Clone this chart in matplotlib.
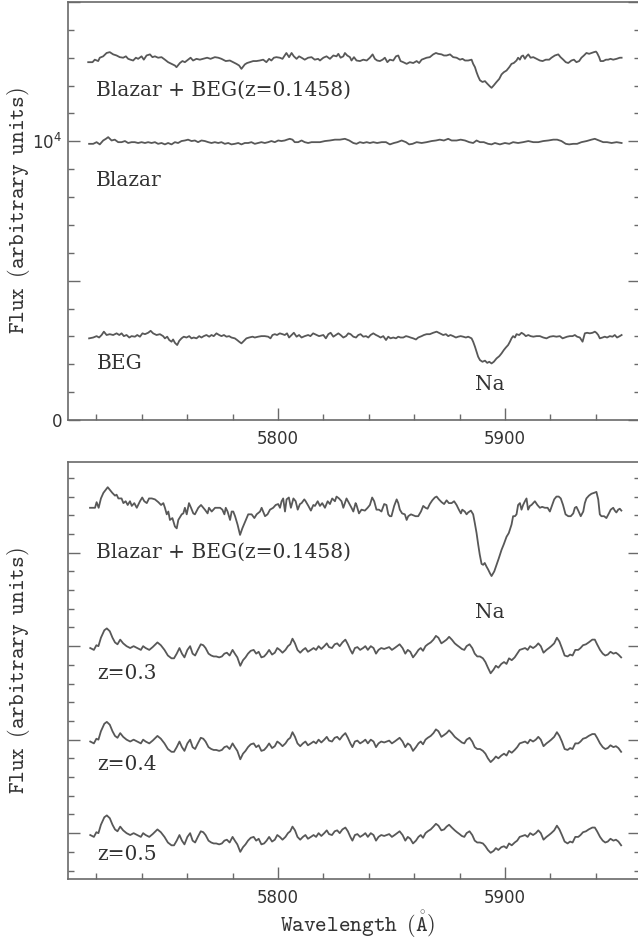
import numpy as np
import matplotlib
matplotlib.use("Agg")
import matplotlib.pyplot as plt
from matplotlib.ticker import MultipleLocator, FixedLocator

# ---- top panel spectra (flux in counts) ----
top_bb_wave = [
    5716.4, 5718.3, 5719.3, 5720.8, 5721.5, 5723.0, 5724.5, 5725.9, 5727.4, 5728.9,
    5730.3, 5731.8, 5733.0, 5734.0, 5735.0, 5736.2, 5737.4, 5738.4, 5739.9, 5740.9,
    5742.1, 5743.6, 5744.7, 5745.8, 5747.2, 5748.7, 5750.2, 5751.6, 5753.1, 5754.6,
    5755.3, 5756.8, 5757.9, 5759.0, 5760.4, 5761.5, 5762.6, 5764.1, 5765.6, 5767.0,
    5768.8, 5770.3, 5772.2, 5773.7, 5775.1, 5777.0, 5778.8, 5780.3, 5781.7, 5782.9,
    5783.9, 5785.4, 5786.4, 5787.6, 5789.1, 5790.5, 5792.0, 5793.5, 5794.9, 5796.1,
    5797.1, 5798.2, 5799.3, 5800.8, 5802.0, 5803.0, 5803.7, 5804.9, 5806.0, 5807.0,
    5808.2, 5809.3, 5810.4, 5811.8, 5813.3, 5814.8, 5816.2, 5817.7,
    5818.5, 5820.0, 5821.4, 5822.9, 5824.4, 5825.8, 5826.6, 5827.6, 5828.8, 5829.5,
    5830.5, 5831.7, 5832.4, 5833.5, 5834.6, 5836.1, 5837.6, 5839.1, 5840.5, 5841.7,
    5842.7, 5843.7, 5844.9, 5846.1, 5847.1, 5848.2, 5849.3, 5850.8, 5852.0, 5853.0,
    5854.0, 5855.2, 5856.7, 5858.1, 5859.6, 5861.1, 5862.2, 5863.3, 5864.3, 5865.5,
    5866.9, 5868.4, 5869.6, 5870.6, 5872.1, 5873.1, 5874.3, 5875.8, 5877.2, 5878.7,
    5880.2, 5881.3, 5882.4, 5883.8, 5885.3, 5886.0, 5886.8, 5887.5, 5888.2, 5889.0,
    5890.1, 5891.2, 5892.2, 5893.4, 5894.1, 5895.1, 5896.3, 5897.5, 5898.5, 5899.5,
    5900.7, 5901.9, 5902.9, 5903.9, 5905.1, 5905.8, 5906.6, 5907.3, 5908.0, 5908.8,
    5909.5, 5910.3, 5911.3, 5912.5, 5913.9, 5915.4, 5916.6, 5918.0, 5919.5, 5920.5,
    5922.0, 5923.5, 5924.5, 5925.7, 5926.8, 5927.9, 5929.3, 5930.4, 5931.5, 5932.7,
    5933.7, 5934.8, 5935.9, 5937.1, 5938.1, 5939.2, 5940.1, 5940.6, 5941.5, 5942.1,
    5943.3, 5944.5, 5945.5, 5946.5, 5947.7, 5949.2, 5950.6, 5951.4]
top_bb_flux = [
    12840, 12840, 12930, 12880, 13000, 13050, 13170, 13200, 13120, 13080,
    13020, 13000, 13050, 12960, 12930, 12900, 13000, 12960, 13050, 12930,
    13080, 13120, 13020, 13050, 13000, 13020, 12930, 12840, 12780, 12720,
    12660, 12810, 12880, 12840, 12930, 13000, 12900, 12960, 12930, 12960,
    13000, 12960, 13020, 13000, 12960, 12880, 12900, 12840, 12780, 12720,
    12600, 12760, 12810, 12840, 12880, 12880, 12900, 12930, 12840, 12960,
    12900, 13000, 13020, 13000, 12960, 13080, 13170, 13020, 13170, 13050,
    12960, 13050, 13000, 12930, 13000, 13020, 12930, 12960,
    12900, 13000, 13050, 12960, 13080, 13050, 13140, 13000, 13050, 13170,
    13080, 13020, 12900, 13020, 12900, 12880, 12930, 12900, 13000, 13120,
    12960, 12900, 12880, 12930, 13000, 12840, 12930, 12900, 13050, 13080,
    12880, 12840, 12780, 12840, 12810, 12880, 12810, 12930, 12960, 13000,
    13020, 13120, 13170, 13140, 13120, 13080, 13080, 13120, 13020, 13000,
    12930, 12960, 12900, 12900, 12930, 12780, 12660, 12480, 12330, 12190,
    12130, 12160, 12070, 11970, 11920, 12010, 12130, 12240, 12400, 12480,
    12540, 12660, 12780, 12810, 12900, 13000, 12930, 13050, 13080, 12960,
    13050, 13120, 13000, 13020, 12960, 12900, 12880, 12930, 12930, 13000,
    13080, 13120, 13020, 12930, 12840, 12810, 12900, 12930, 12840, 12880,
    13000, 13080, 13170, 13140, 13170, 13200, 13220, 13170, 13020, 12880,
    12880, 12930, 12930, 12960, 12930, 12960, 13000, 13000]

blazar_wave = [
    5716.8, 5718.6, 5720.1, 5721.5, 5723.0, 5724.2, 5725.2, 5726.7, 5728.1, 5729.6,
    5731.1, 5732.6, 5734.0, 5735.5, 5736.9, 5738.4, 5739.9, 5741.4, 5742.8, 5744.3,
    5745.8, 5747.2, 5748.7, 5750.2, 5751.6, 5753.1, 5754.6, 5756.0, 5757.5, 5759.0,
    5760.4, 5761.9, 5763.4, 5764.8, 5766.3, 5767.8, 5769.3, 5770.7, 5772.2, 5773.7,
    5775.1, 5776.6, 5778.1, 5779.5, 5781.0, 5782.5, 5783.9, 5785.4, 5786.9, 5788.3,
    5789.8, 5791.3, 5792.7, 5794.2, 5795.7, 5797.1, 5798.6, 5800.1, 5801.5, 5803.0,
    5804.0, 5805.2, 5806.4, 5807.4, 5808.9, 5810.4, 5811.8, 5813.3, 5814.8, 5816.2,
    5817.7,
    5818.5, 5820.7, 5822.9, 5825.1, 5827.3, 5829.5, 5831.4, 5833.2, 5834.6, 5836.1,
    5837.6, 5839.1, 5840.5, 5842.0, 5843.7, 5845.7, 5847.6, 5849.3, 5851.1, 5852.6,
    5854.5, 5856.4, 5857.8, 5859.3, 5861.1, 5863.3, 5865.5, 5867.7, 5869.6, 5871.3,
    5873.1, 5875.0, 5876.5, 5878.7, 5880.5, 5882.4, 5884.3, 5886.0, 5887.5, 5889.0,
    5890.7, 5892.6, 5894.1, 5895.6, 5897.8, 5900.0, 5901.9, 5903.6, 5905.8, 5908.0,
    5910.3, 5912.5, 5914.7, 5916.9, 5919.1, 5921.3, 5923.0, 5924.9, 5926.8, 5928.3,
    5930.1, 5931.8, 5933.7, 5936.0, 5938.1, 5939.6, 5941.5, 5943.3, 5945.0, 5947.0,
    5949.2, 5951.4]
blazar_flux = [
    9910, 9910, 9970, 9890, 10030, 10090, 10150, 10030, 10060, 9970,
    9970, 10010, 9940, 9970, 9970, 9940, 9970, 9940, 9970, 9940,
    9970, 9910, 9940, 9890, 9940, 9890, 9970, 9940, 10010, 10030,
    10060, 10010, 10030, 9970, 10030, 10010, 9970, 9940, 9970, 9940,
    9970, 9910, 9940, 9890, 9910, 9940, 9890, 9940, 9940, 9970,
    9910, 9940, 9970, 9940, 9970, 10010, 9970, 10030, 10010, 10030,
    10060, 10090, 10060, 9970, 9970, 10030, 9970, 9940, 9970, 9970,
    9970,
    9970, 10010, 10030, 10060, 10060, 10090, 10030, 9940, 9910, 9970,
    9940, 9970, 9940, 9970, 9940, 9970, 9970, 9890, 9940, 9970,
    10030, 9970, 9890, 9910, 9970, 9940, 9970, 10010, 10030, 10060,
    10030, 10090, 10030, 10030, 10060, 10030, 9970, 9940, 10030, 9970,
    9970, 9910, 9890, 9940, 9890, 9940, 9910, 9970, 9940, 9970,
    10010, 9970, 9970, 10010, 10030, 10060, 10060, 10010, 9910, 9890,
    9910, 9910, 9970, 10010, 10060, 10090, 10030, 9970, 9970, 9940,
    9970, 9940]

beg_wave = [
    5716.8, 5718.6, 5720.1, 5721.2, 5722.3, 5723.3, 5724.5, 5725.9, 5727.4, 5728.9,
    5730.1, 5731.1, 5732.1, 5733.3, 5734.5, 5735.5, 5737.0, 5738.0, 5739.2, 5740.3,
    5741.4, 5742.8, 5743.9, 5745.0, 5746.5, 5748.0, 5749.4, 5750.2, 5751.2, 5752.1,
    5753.1, 5753.8, 5754.6, 5755.6, 5756.5, 5757.5, 5758.5, 5759.7, 5760.9, 5761.9,
    5762.9, 5764.1, 5765.3, 5766.3, 5767.3, 5768.5, 5769.7, 5770.7, 5771.7, 5772.9,
    5774.1, 5775.1, 5776.2, 5777.3, 5778.5, 5779.5, 5781.0, 5782.0, 5782.9, 5783.9,
    5785.0, 5786.1, 5787.3, 5788.8, 5789.8, 5791.3, 5792.7, 5794.2, 5795.7, 5796.7,
    5797.6, 5798.6, 5799.6, 5800.8, 5802.0, 5803.0, 5804.0, 5804.9, 5806.0, 5807.0,
    5808.2, 5809.3, 5810.4, 5811.8, 5813.3, 5814.3, 5815.5, 5817.0, 5818.1,
    5820.0, 5821.1, 5822.2, 5823.2, 5824.4, 5825.5, 5826.6, 5827.6, 5828.8, 5830.0,
    5831.0, 5832.0, 5833.2, 5834.4, 5835.4, 5836.4, 5837.6, 5838.8, 5839.8, 5840.8,
    5842.0, 5843.2, 5844.2, 5845.2, 5846.4, 5847.6, 5848.6, 5849.6, 5850.8, 5852.0,
    5853.0, 5854.0, 5855.2, 5856.4, 5857.4, 5858.4, 5859.6, 5860.8, 5861.8, 5863.3,
    5864.3, 5865.5, 5866.9, 5868.4, 5869.9, 5871.3, 5872.8, 5874.0, 5875.0, 5876.0,
    5877.2, 5878.4, 5879.4, 5880.5, 5881.6, 5882.8, 5883.8, 5884.6, 5885.3, 5886.0,
    5886.8, 5887.5, 5888.2, 5889.0, 5890.1, 5891.2, 5892.2, 5893.1, 5894.1, 5895.1,
    5896.3, 5897.5, 5898.5, 5899.5, 5900.4, 5901.4, 5902.2, 5902.9, 5903.6, 5904.4,
    5905.1, 5906.3, 5907.3, 5908.3, 5909.2, 5910.3, 5911.3, 5912.5, 5913.9, 5915.4,
    5916.9, 5918.3, 5919.8, 5921.3, 5922.7, 5924.2, 5925.4, 5926.4, 5927.4, 5928.6,
    5929.8, 5930.8, 5931.8, 5933.0, 5934.2, 5935.2, 5936.2, 5937.4, 5938.6, 5939.6,
    5940.3, 5941.1, 5941.8, 5943.0, 5944.0, 5945.0, 5946.2, 5947.4, 5948.4, 5949.4,
    5950.6, 5951.4]
beg_flux = [
    2930, 2960, 3010, 2960, 3050, 3170, 3050, 3080, 3050, 3110,
    3050, 3110, 3010, 3050, 2960, 3010, 2990, 3050, 2990, 3110,
    3080, 3130, 3200, 3110, 3050, 3080, 3010, 2930, 2990, 2870,
    2810, 2890, 2770, 2690, 2840, 2930, 2990, 2960, 3010, 2930,
    2960, 2930, 3010, 2960, 3010, 3050, 2990, 3050, 3010, 3110,
    3050, 3010, 3050, 2990, 3010, 2960, 2930, 2870, 2810, 2750,
    2840, 2930, 2960, 2990, 2960, 2990, 3010, 3010, 2990, 2930,
    3050, 3080, 3050, 3110, 3080, 3050, 3110, 2960, 3050, 3130,
    2990, 3050, 2960, 3010, 3050, 3010, 3110, 3050, 3010,
    3050, 2930, 3080, 3130, 2990, 3050, 3110, 3050, 2960, 3010,
    3110, 3080, 2990, 2960, 3050, 3080, 2990, 3010, 2960, 3050,
    3110, 3050, 3010, 2960, 3010, 2870, 2990, 2930, 2960, 2930,
    2990, 2960, 2960, 3010, 2990, 2960, 2930, 2890, 2960, 3010,
    3050, 3080, 3080, 3130, 3170, 3110, 3050, 3080, 3010, 3050,
    3010, 2960, 2990, 3010, 2990, 2960, 2990, 2960, 2930, 2810,
    2630, 2450, 2270, 2150, 2090, 2130, 2050, 2090, 2030, 2090,
    2210, 2290, 2390, 2510, 2600, 2690, 2810, 2930, 3010, 2960,
    3080, 3050, 3130, 3080, 3010, 3050, 3010, 2990, 3010, 3010,
    2960, 2930, 2990, 3010, 2990, 3010, 2930, 2960, 2990, 3010,
    3010, 3050, 2990, 2960, 2810, 3110, 3130, 3110, 3130, 3170,
    3130, 3050, 2930, 2960, 2990, 2960, 3010, 2990, 3050, 2960,
    3010, 3050]

# ---- bottom panel spectra (arbitrary units, offset) ----
bot_bb_wave = [
    5717.2, 5719.4, 5720.1, 5721.0, 5722.0, 5723.1, 5725.0, 5726.0, 5727.0, 5728.2,
    5728.9, 5729.7, 5731.1, 5731.9, 5732.9, 5733.8, 5734.8, 5735.6, 5736.7, 5737.8,
    5739.2, 5740.2, 5741.1, 5742.2, 5743.2, 5744.4, 5745.8, 5747.3, 5748.5, 5749.5,
    5750.2, 5751.0, 5751.7, 5752.4, 5753.5, 5754.6, 5755.4, 5756.1, 5757.6, 5758.3,
    5759.0, 5759.8, 5760.8, 5761.7, 5762.7, 5763.4, 5764.9, 5766.1, 5767.1, 5767.8,
    5769.0, 5769.6, 5770.8, 5772.3, 5773.0, 5774.5, 5775.5, 5776.4, 5777.0, 5777.8,
    5778.9, 5779.6, 5780.3, 5781.1, 5782.2, 5783.3, 5784.3, 5785.5, 5786.2, 5786.9,
    5788.4, 5789.6, 5790.6, 5792.1, 5792.8, 5794.3, 5795.4, 5796.5, 5797.9, 5799.0,
    5800.1, 5800.9, 5801.6, 5802.3, 5803.1, 5803.8, 5804.8, 5805.7, 5806.8, 5807.8,
    5808.7, 5809.7, 5810.4, 5811.6, 5812.2, 5813.4, 5814.5, 5815.6, 5816.3, 5817.5,
    5818.5, 5819.5, 5820.7, 5821.9, 5822.9, 5823.9, 5825.1, 5825.8, 5826.9, 5828.0,
    5828.8, 5829.5, 5830.2, 5831.3, 5832.4, 5833.2, 5834.2,
    5834.6, 5835.7, 5836.8, 5838.3, 5839.5, 5840.5, 5841.5, 5842.4, 5843.4, 5844.5,
    5845.6, 5846.8, 5847.8, 5848.6, 5849.3, 5850.0, 5851.2, 5852.3, 5853.0, 5853.7,
    5854.7, 5855.9, 5856.7, 5857.4, 5858.6, 5859.6, 5860.6, 5861.8, 5863.0, 5864.0,
    5865.0, 5865.9, 5866.9, 5868.0, 5869.1, 5869.9, 5870.9, 5872.1, 5873.2, 5874.3,
    5875.3, 5876.5, 5877.6, 5878.7, 5879.7, 5880.6, 5881.2, 5882.3, 5883.1, 5883.8,
    5885.0, 5886.0, 5886.7, 5887.5, 5888.2, 5888.9, 5889.7, 5890.4, 5891.1, 5891.9,
    5892.6, 5893.4, 5894.1, 5895.3, 5896.3, 5897.3, 5898.5, 5899.5, 5900.7, 5901.7,
    5902.9, 5903.6, 5904.4, 5905.1, 5905.8, 5906.6, 5907.3, 5908.0, 5908.8, 5909.5,
    5910.2, 5911.0, 5911.7, 5913.2, 5914.3, 5915.4, 5916.4, 5917.6, 5918.8, 5919.8,
    5920.8, 5921.7, 5922.7, 5923.7, 5924.6, 5925.6, 5926.7, 5927.9, 5929.0, 5930.1,
    5930.8, 5931.5, 5932.3, 5933.4, 5934.5, 5935.2, 5935.9, 5937.0, 5938.1, 5939.3,
    5940.3, 5941.1, 5941.8, 5942.5, 5943.7, 5944.7, 5945.8, 5946.6, 5947.7, 5948.4,
    5949.1, 5949.9, 5950.6, 5951.3]
bot_bb_flux = [
    4.48, 4.48, 4.54, 4.48, 4.58, 4.64, 4.70, 4.67, 4.64, 4.61,
    4.62, 4.58, 4.58, 4.53, 4.55, 4.51, 4.55, 4.50, 4.53, 4.48,
    4.55, 4.59, 4.55, 4.53, 4.58, 4.58, 4.57, 4.54, 4.51, 4.53,
    4.48, 4.41, 4.44, 4.35, 4.37, 4.28, 4.26, 4.35, 4.41, 4.42,
    4.48, 4.41, 4.53, 4.48, 4.42, 4.41, 4.48, 4.51, 4.48, 4.46,
    4.42, 4.48, 4.44, 4.48, 4.48, 4.48, 4.46, 4.41, 4.48, 4.44,
    4.35, 4.44, 4.44, 4.39, 4.30, 4.19, 4.26, 4.33, 4.37, 4.41,
    4.41, 4.37, 4.41, 4.44, 4.48, 4.39, 4.41, 4.46, 4.48, 4.51,
    4.52, 4.48, 4.55, 4.58, 4.44, 4.57, 4.59, 4.48, 4.58, 4.55,
    4.46, 4.52, 4.53, 4.57, 4.55, 4.50, 4.45, 4.51, 4.50, 4.55,
    4.50, 4.53, 4.48, 4.55, 4.52, 4.58, 4.55, 4.60, 4.58, 4.55,
    4.48, 4.53, 4.58, 4.53, 4.48, 4.44, 4.53,
    4.51, 4.42, 4.46, 4.45, 4.48, 4.51, 4.59, 4.55, 4.46, 4.46,
    4.44, 4.52, 4.51, 4.41, 4.39, 4.39, 4.50, 4.57, 4.53, 4.46,
    4.42, 4.41, 4.35, 4.39, 4.41, 4.40, 4.39, 4.39, 4.44, 4.50,
    4.48, 4.47, 4.52, 4.56, 4.59, 4.60, 4.57, 4.54, 4.52, 4.56,
    4.53, 4.53, 4.55, 4.51, 4.46, 4.42, 4.46, 4.44, 4.41, 4.43,
    4.45, 4.41, 4.32, 4.21, 4.09, 3.98, 3.88, 3.87, 3.89, 3.85,
    3.82, 3.78, 3.75, 3.80, 3.87, 3.94, 4.03, 4.09, 4.17, 4.21,
    4.30, 4.39, 4.39, 4.41, 4.51, 4.53, 4.46, 4.51, 4.55, 4.58,
    4.46, 4.50, 4.51, 4.55, 4.51, 4.48, 4.49, 4.48, 4.48, 4.44,
    4.51, 4.57, 4.60, 4.60, 4.58, 4.51, 4.41, 4.39, 4.39, 4.42,
    4.48, 4.49, 4.45, 4.39, 4.44, 4.53, 4.58, 4.61, 4.63, 4.64,
    4.65, 4.57, 4.41, 4.39, 4.39, 4.37, 4.42, 4.46, 4.48, 4.45,
    4.43, 4.46, 4.47, 4.45]

z_wave = [
    5717.3, 5718.9, 5720.0, 5720.9, 5722.0, 5723.5, 5724.6, 5725.9, 5727.1, 5728.2,
    5729.3, 5730.5, 5731.8, 5733.3, 5734.9, 5736.4, 5738.0, 5739.6, 5740.6, 5741.7,
    5743.3, 5744.8, 5746.9, 5748.4, 5750.0, 5751.5, 5753.1, 5754.2, 5755.4, 5756.6,
    5757.7, 5758.8, 5760.1, 5761.3, 5762.4, 5763.5, 5764.7, 5766.0, 5767.1, 5768.1,
    5769.4, 5770.6, 5771.7, 5772.8, 5774.1, 5775.3, 5776.4, 5777.5, 5778.7, 5780.0,
    5781.0, 5782.1, 5783.4, 5784.6, 5785.7, 5786.8, 5788.0, 5789.3, 5790.4, 5791.5,
    5792.7, 5793.9, 5795.0, 5796.1, 5797.4, 5798.6, 5799.7, 5800.8, 5802.0, 5803.3,
    5804.4, 5805.4, 5806.4, 5807.5, 5808.6, 5809.8, 5811.0, 5812.1, 5813.2, 5814.5,
    5815.7, 5816.8, 5817.9, 5819.1, 5820.4, 5821.5, 5822.5, 5823.8, 5825.0, 5826.1,
    5827.2, 5828.4, 5829.7, 5830.8, 5831.9, 5832.8, 5833.9, 5835.0, 5836.2, 5837.5,
    5838.5, 5839.6, 5840.9, 5842.1, 5843.2, 5844.3, 5845.5, 5846.8, 5847.9, 5849.0,
    5850.2, 5851.4, 5852.5, 5853.6, 5854.9, 5856.1, 5857.2, 5858.3, 5859.5, 5860.8,
    5861.9, 5862.9, 5863.9, 5865.0, 5866.0, 5867.3, 5868.5, 5869.6, 5870.7, 5872.0,
    5873.2, 5874.3, 5875.4, 5876.6, 5877.9, 5878.9, 5880.0, 5881.0, 5882.1, 5883.1,
    5884.4, 5885.6, 5886.7, 5887.8, 5889.0, 5890.3, 5891.4, 5892.5, 5893.7, 5895.0,
    5896.0, 5897.1, 5898.4, 5899.6, 5900.7, 5901.8, 5903.0, 5904.3, 5905.4, 5906.5,
    5907.7, 5908.9, 5910.0, 5911.1, 5912.4, 5913.6, 5914.7, 5915.8, 5917.0, 5918.3,
    5919.4, 5920.4, 5921.7, 5922.9, 5924.0, 5925.1, 5926.3, 5927.6, 5928.7, 5929.8,
    5931.0, 5932.3, 5933.3, 5934.4, 5935.7, 5936.9, 5938.5, 5939.6, 5940.6, 5941.9,
    5943.1, 5944.2, 5945.3, 5946.5, 5947.8, 5948.9, 5950.0, 5951.2]
z03_flux = [
    2.98, 2.96, 3.01, 3.00, 3.09, 3.17, 3.19, 3.16, 3.09, 3.04,
    3.02, 3.07, 3.03, 3.00, 2.98, 3.00, 2.98, 2.96, 3.00, 2.98,
    2.96, 2.99, 3.04, 3.01, 2.96, 2.90, 2.87, 2.87, 2.92, 2.98,
    2.92, 2.88, 2.96, 3.00, 2.92, 2.90, 2.96, 3.02, 3.01, 2.98,
    2.92, 2.90, 2.89, 2.89, 2.88, 2.89, 2.92, 2.93, 2.90, 2.96,
    2.92, 2.88, 2.79, 2.85, 2.88, 2.92, 2.95, 2.96, 2.92, 2.94,
    2.88, 2.89, 2.92, 2.96, 2.91, 2.93, 2.98, 2.96, 2.93, 2.96,
    3.00, 3.02, 3.08, 3.03, 2.96, 2.93, 2.96, 2.98, 2.94, 2.96,
    2.98, 2.96, 3.00, 2.97, 3.00, 3.03, 2.99, 2.98, 3.02, 3.03,
    3.00, 3.04, 3.07, 3.02, 2.96, 2.92, 2.98, 2.99, 2.96, 2.98,
    3.00, 2.96, 3.00, 2.98, 2.92, 2.96, 2.98, 2.97, 2.98, 2.99,
    2.96, 2.98, 3.00, 3.02, 2.98, 2.92, 2.96, 2.94, 2.88, 2.92,
    2.96, 2.98, 2.95, 3.00, 3.02, 3.04, 3.07, 3.11, 3.09, 3.03,
    3.05, 3.07, 3.10, 3.07, 3.03, 3.01, 2.99, 2.97, 2.96, 3.00,
    3.02, 2.98, 2.92, 2.89, 2.89, 2.87, 2.83, 2.77, 2.71, 2.75,
    2.79, 2.77, 2.81, 2.83, 2.81, 2.87, 2.85, 2.88, 2.92, 2.96,
    2.97, 2.98, 2.96, 3.00, 2.98, 3.00, 3.03, 3.00, 2.93, 2.96,
    2.98, 3.00, 3.03, 3.09, 3.05, 2.98, 2.90, 2.89, 2.91, 2.90,
    2.96, 2.96, 2.98, 3.01, 3.02, 3.04, 3.07, 3.07, 3.02, 2.96,
    2.92, 2.90, 2.91, 2.94, 2.92, 2.93, 2.91, 2.88]
z04_flux = [
    1.98, 1.96, 2.01, 2.00, 2.09, 2.17, 2.19, 2.16, 2.09, 2.04,
    2.02, 2.07, 2.03, 2.00, 1.98, 2.00, 1.98, 1.96, 2.00, 1.98,
    1.96, 1.99, 2.04, 2.01, 1.96, 1.90, 1.87, 1.87, 1.92, 1.98,
    1.92, 1.88, 1.96, 2.00, 1.92, 1.90, 1.96, 2.02, 2.01, 1.98,
    1.92, 1.90, 1.89, 1.89, 1.88, 1.89, 1.92, 1.93, 1.90, 1.96,
    1.92, 1.88, 1.79, 1.85, 1.88, 1.92, 1.95, 1.96, 1.92, 1.94,
    1.88, 1.89, 1.92, 1.96, 1.91, 1.93, 1.98, 1.96, 1.93, 1.96,
    2.00, 2.02, 2.08, 2.03, 1.96, 1.93, 1.96, 1.98, 1.94, 1.96,
    1.98, 1.96, 2.00, 1.97, 2.00, 2.03, 1.99, 1.98, 2.02, 2.03,
    2.00, 2.04, 2.07, 2.02, 1.96, 1.92, 1.98, 1.99, 1.96, 1.98,
    2.00, 1.96, 2.00, 1.98, 1.92, 1.96, 1.98, 1.97, 1.98, 1.99,
    1.96, 1.98, 2.00, 2.02, 1.98, 1.92, 1.96, 1.94, 1.88, 1.92,
    1.96, 1.98, 1.95, 2.00, 2.02, 2.04, 2.07, 2.11, 2.09, 2.03,
    2.05, 2.07, 2.10, 2.07, 2.03, 2.01, 1.99, 1.97, 1.96, 2.00,
    2.02, 1.98, 1.92, 1.90, 1.90, 1.88, 1.85, 1.80, 1.76, 1.79,
    1.82, 1.80, 1.83, 1.85, 1.83, 1.88, 1.86, 1.89, 1.92, 1.96,
    1.97, 1.98, 1.96, 2.00, 1.98, 2.00, 2.03, 2.00, 1.93, 1.96,
    1.98, 2.00, 2.03, 2.08, 2.04, 1.98, 1.90, 1.89, 1.91, 1.90,
    1.96, 1.96, 1.98, 2.01, 2.02, 2.04, 2.06, 2.06, 2.02, 1.96,
    1.92, 1.90, 1.91, 1.94, 1.92, 1.93, 1.91, 1.87]
z05_flux = [
    0.98, 0.96, 1.01, 1.00, 1.09, 1.17, 1.19, 1.16, 1.09, 1.04,
    1.02, 1.07, 1.03, 1.00, 0.98, 1.00, 0.98, 0.96, 1.00, 0.98,
    0.96, 0.99, 1.04, 1.01, 0.96, 0.90, 0.87, 0.87, 0.92, 0.98,
    0.92, 0.88, 0.96, 1.00, 0.92, 0.90, 0.96, 1.02, 1.01, 0.98,
    0.92, 0.90, 0.89, 0.89, 0.88, 0.89, 0.92, 0.93, 0.90, 0.96,
    0.92, 0.88, 0.80, 0.85, 0.88, 0.92, 0.95, 0.96, 0.92, 0.94,
    0.88, 0.89, 0.92, 0.96, 0.91, 0.93, 0.98, 0.96, 0.93, 0.96,
    1.00, 1.02, 1.07, 1.03, 0.96, 0.93, 0.96, 0.98, 0.94, 0.96,
    0.98, 0.96, 1.00, 0.97, 1.00, 1.03, 0.99, 0.98, 1.02, 1.03,
    1.00, 1.04, 1.06, 1.02, 0.96, 0.92, 0.98, 0.99, 0.96, 0.98,
    1.00, 0.96, 1.00, 0.98, 0.92, 0.96, 0.98, 0.97, 0.98, 0.99,
    0.96, 0.98, 1.00, 1.02, 0.98, 0.92, 0.96, 0.94, 0.89, 0.92,
    0.96, 0.98, 0.95, 1.00, 1.02, 1.04, 1.07, 1.10, 1.08, 1.03,
    1.04, 1.07, 1.09, 1.06, 1.03, 1.01, 0.99, 0.97, 0.96, 1.00,
    1.02, 0.98, 0.92, 0.90, 0.90, 0.89, 0.86, 0.82, 0.79, 0.81,
    0.84, 0.82, 0.85, 0.86, 0.84, 0.89, 0.87, 0.90, 0.92, 0.96,
    0.97, 0.98, 0.96, 1.00, 0.98, 1.00, 1.03, 1.00, 0.93, 0.96,
    0.98, 1.00, 1.03, 1.08, 1.04, 0.98, 0.91, 0.89, 0.91, 0.90,
    0.96, 0.96, 0.98, 1.01, 1.02, 1.04, 1.06, 1.06, 1.02, 0.96,
    0.92, 0.90, 0.91, 0.94, 0.92, 0.93, 0.91, 0.87]

line_col = "#585858"
text_col = "#333333"
axis_col = "#6a6a6a"
serif = "DejaVu Serif"
lab_size = 14.5

fig = plt.figure(figsize=(6.38, 9.43), dpi=100)
ax1 = fig.add_axes([0.1066, 0.5546, 0.8958, 0.4433])
ax2 = fig.add_axes([0.1066, 0.0679, 0.8958, 0.4422])

for ax in (ax1, ax2):
    ax.set_xlim(5707.5, 5959.3)
    ax.xaxis.set_major_locator(FixedLocator([5800, 5900]))
    ax.xaxis.set_minor_locator(MultipleLocator(20))
    ax.tick_params(axis="both", which="both", direction="in", colors=axis_col,
                   labelcolor=text_col, width=1.0)
    ax.tick_params(axis="x", which="both", bottom=True, top=False)
    ax.tick_params(axis="y", which="both", left=True, right=True)
    ax.tick_params(which="major", length=8.5)
    ax.tick_params(which="minor", length=4.0)
    ax.tick_params(axis="x", labelsize=12, pad=7)
    ax.tick_params(axis="y", labelsize=12, pad=4)
    for s in ax.spines.values():
        s.set_color(axis_col)
        s.set_linewidth(1.2)
    ax.set_ylabel(r"$\mathtt{Flux\enspace(arbitrary\enspace units)}$", fontsize=16,
                  math_fontfamily="cm", color=text_col, va="center")
    ax.yaxis.set_label_coords(-0.0875, 0.5)

# top panel
ax1.plot(top_bb_wave, top_bb_flux, color=line_col, lw=1.3)
ax1.plot(blazar_wave, blazar_flux, color=line_col, lw=1.3)
ax1.plot(beg_wave, beg_flux, color=line_col, lw=1.3)
ax1.set_ylim(0, 15000)
ax1.yaxis.set_major_locator(FixedLocator([0, 5000, 10000, 15000]))
ax1.set_yticklabels(["0", "", r"$10^4$", ""])
ax1.yaxis.set_minor_locator(MultipleLocator(1000))

ax1.text(5719.8, 11830, "Blazar + BEG(z=0.1458)", family=serif, fontsize=lab_size,
         color=text_col, va="center", ha="left")
ax1.text(5719.8, 8600, "Blazar", family=serif, fontsize=lab_size,
         color=text_col, va="center", ha="left")
ax1.text(5720.2, 2040, "BEG", family=serif, fontsize=lab_size,
         color=text_col, va="center", ha="left")
ax1.text(5893.4, 1290, "Na", family=serif, fontsize=lab_size,
         color=text_col, va="center", ha="center")

# bottom panel
ax2.plot(bot_bb_wave, bot_bb_flux, color=line_col, lw=1.3)
ax2.plot(z_wave, z03_flux, color=line_col, lw=1.3)
ax2.plot(z_wave, z04_flux, color=line_col, lw=1.3)
ax2.plot(z_wave, z05_flux, color=line_col, lw=1.3)
ax2.set_ylim(0.51, 4.97)
ax2.yaxis.set_major_locator(FixedLocator([1, 2, 3, 4]))
ax2.yaxis.set_minor_locator(MultipleLocator(0.2))
ax2.set_yticklabels([])

ax2.text(5719.8, 4.0, "Blazar + BEG(z=0.1458)", family=serif, fontsize=lab_size,
         color=text_col, va="center", ha="left")
ax2.text(5893.4, 3.36, "Na", family=serif, fontsize=lab_size,
         color=text_col, va="center", ha="center")
ax2.text(5720.2, 2.71, "z=0.3", family=serif, fontsize=lab_size,
         color=text_col, va="center", ha="left")
ax2.text(5720.2, 1.73, "z=0.4", family=serif, fontsize=lab_size,
         color=text_col, va="center", ha="left")
ax2.text(5720.2, 0.77, "z=0.5", family=serif, fontsize=lab_size,
         color=text_col, va="center", ha="left")

ax2.set_xlabel(r"$\mathtt{Wavelength\enspace(\mathring{A})}$", fontsize=16,
               math_fontfamily="cm", color=text_col, va="center")
ax2.xaxis.set_label_coords(0.507, -0.110)

fig.savefig("out.png", dpi=100)
